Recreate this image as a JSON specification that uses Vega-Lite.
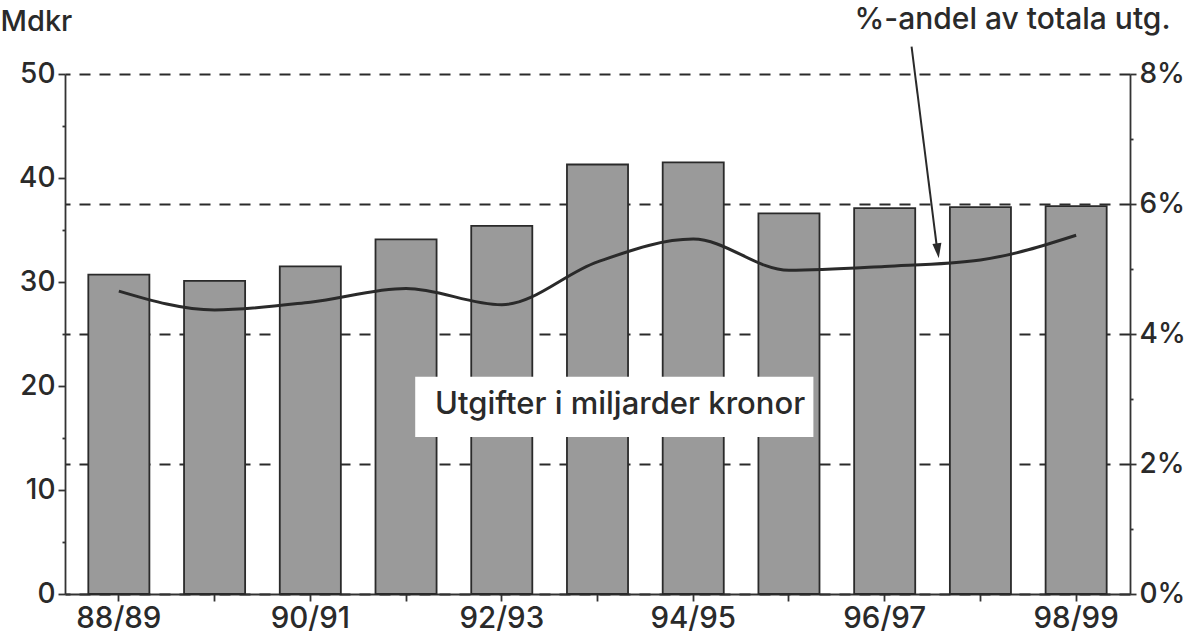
{
  "$schema": "https://vega.github.io/schema/vega-lite/v6.json",
  "width": 1065,
  "height": 520,
  "autosize": "none",
  "padding": {"left": 65, "top": 74, "right": 57, "bottom": 45},
  "background": "white",
  "config": {
    "view": {"stroke": null},
    "font": "Inter",
    "axis": {"labelFont": "Inter", "titleFont": "Inter", "labelFontWeight": 500, "titleFontWeight": 500, "labelColor": "#2a2a2a", "titleColor": "#2a2a2a", "domainColor": "#333", "tickColor": "#333", "domainWidth": 1.8, "tickWidth": 1.8, "labelFontSize": 27}
  },
  "datasets": {
    "main": [
      {"year": "88/89", "mdkr": 30.7, "pct": 4.66},
      {"year": "89/90", "mdkr": 30.1, "pct": 4.37},
      {"year": "90/91", "mdkr": 31.5, "pct": 4.49},
      {"year": "91/92", "mdkr": 34.1, "pct": 4.70},
      {"year": "92/93", "mdkr": 35.4, "pct": 4.45},
      {"year": "93/94", "mdkr": 41.3, "pct": 5.11},
      {"year": "94/95", "mdkr": 41.5, "pct": 5.46},
      {"year": "95/96", "mdkr": 36.6, "pct": 4.98},
      {"year": "96/97", "mdkr": 37.1, "pct": 5.04},
      {"year": "97/98", "mdkr": 37.2, "pct": 5.14},
      {"year": "98/99", "mdkr": 37.3, "pct": 5.52}
    ],
    "box": [{"from": "91/92", "to": "95/96", "lo": 15.1, "hi": 20.9}],
    "label": [{"year": "93/94", "v": 18.2, "text": "Utgifter i miljarder kronor"}],
    "arrow": [{"from": "96/97", "to": "96/97", "y1": 8.42, "y2": 5.37}],
    "head": [{"year": "96/97", "y": 5.28}]
  },
  "encoding": {
    "x": {
      "field": "year", "type": "ordinal", "title": null,
      "sort": ["88/89","89/90","90/91","91/92","92/93","93/94","94/95","95/96","96/97","97/98","98/99"],
      "scale": {"paddingInner": 0.362, "paddingOuter": 0.2436},
      "axis": {"labelAngle": 0, "tickSize": 7, "labelPadding": 3, "labelFontSize": 29.5,
        "labelExpr": "indexof(['88/89','90/91','92/93','94/95','96/97','98/99'], datum.value) >= 0 ? datum.value : ''"}
    }
  },
  "layer": [
    {
      "data": {"name": "main"},
      "mark": {"type": "bar", "fill": "#9a9a9a", "stroke": "#2a2a2a", "strokeWidth": 1.8},
      "encoding": {
        "y": {"field": "mdkr", "type": "quantitative", "scale": {"domain": [0, 50]},
          "axis": {"orient": "left", "values": [0,10,20,30,40,50], "grid": false, "tickSize": 7, "labelPadding": 3, "labelFontSize": 28,
            "title": "Mdkr", "titleAngle": 0, "titleAlign": "left", "titleBaseline": "alphabetic", "titleX": -65, "titleY": -44, "titleFontSize": 29}}
      }
    },
    {
      "data": {"name": "main"},
      "mark": {"type": "line", "color": "#2a2a2a", "strokeWidth": 3, "interpolate": "monotone"},
      "encoding": {
        "y": {"field": "pct", "type": "quantitative", "scale": {"domain": [0, 8]},
          "axis": {"orient": "right", "values": [0,2,4,6,8], "labelExpr": "datum.value + '%'", "grid": true, "gridDash": [11, 9], "gridColor": "#2a2a2a", "gridWidth": 2, "tickSize": 6, "labelPadding": 3, "labelFontSize": 28,
            "title": "%-andel av totala utg.", "titleAngle": 0, "titleAlign": "center", "titleBaseline": "alphabetic", "titleX": -118, "titleY": -46, "titleFontSize": 30}}
      }
    },
    {
      "data": {"name": "box"},
      "mark": {"type": "rect", "fill": "white"},
      "encoding": {
        "x": {"field": "from", "type": "ordinal", "bandPosition": 0.65},
        "x2": {"field": "to", "bandPosition": 0.9},
        "y": {"field": "lo", "type": "quantitative", "scale": {"domain": [0, 50]},
          "axis": {"orient": "left", "values": [5,15,25,35,45], "labels": false, "domain": false, "grid": false, "tickSize": 3, "title": null}},
        "y2": {"field": "hi"}
      }
    },
    {
      "data": {"name": "label"},
      "mark": {"type": "text", "fontSize": 31, "fontWeight": 500, "color": "#2a2a2a", "baseline": "middle", "align": "center"},
      "encoding": {
        "x": {"field": "year", "type": "ordinal", "bandPosition": 0.87},
        "y": {"field": "v", "type": "quantitative", "scale": {"domain": [0, 50]}, "axis": null},
        "text": {"field": "text"}
      }
    },
    {
      "data": {"name": "arrow"},
      "mark": {"type": "rule", "color": "#2a2a2a", "strokeWidth": 2, "clip": false},
      "encoding": {
        "x": {"field": "from", "type": "ordinal", "bandPosition": 0.94},
        "x2": {"field": "to", "bandPosition": 1.35},
        "y": {"field": "y1", "type": "quantitative", "scale": {"domain": [0, 8]},
          "axis": {"orient": "right", "values": [1,3,5,7], "labels": false, "domain": false, "grid": false, "tickSize": 3, "title": null}},
        "y2": {"field": "y2"}
      }
    },
    {
      "data": {"name": "head"},
      "mark": {"type": "point", "shape": "M-0.6,-1L0.6,-1L0,1Z", "filled": true, "color": "#2a2a2a", "opacity": 1, "size": 225, "angle": -7},
      "encoding": {
        "x": {"field": "year", "type": "ordinal", "bandPosition": 1.37},
        "y": {"field": "y", "type": "quantitative", "scale": {"domain": [0, 8]}, "axis": null}
      }
    }
  ],
  "resolve": {"scale": {"y": "independent"}}
}
